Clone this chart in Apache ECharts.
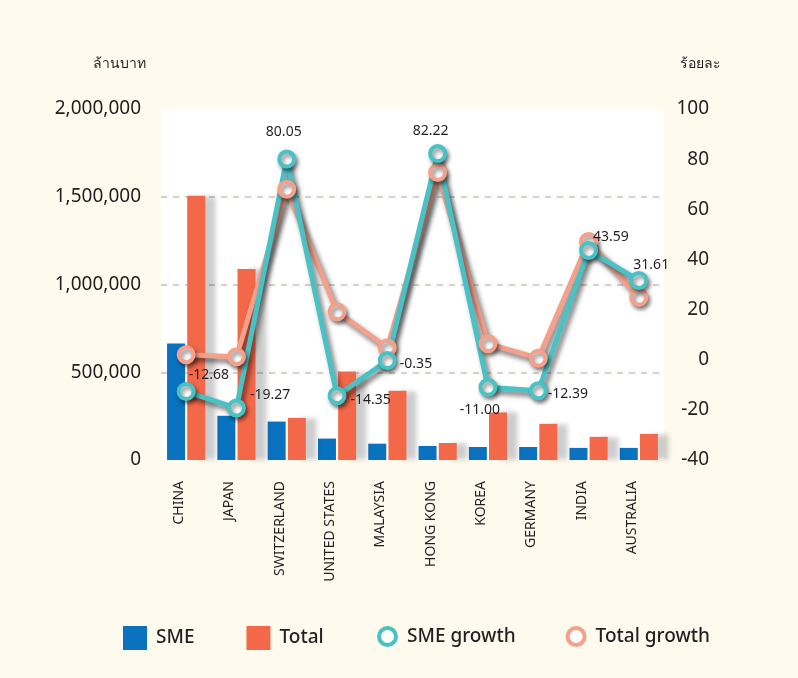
<!DOCTYPE html>
<html>
<head>
<meta charset="utf-8">
<script src="https://cdn.jsdelivr.net/npm/echarts@6/dist/echarts.min.js"></script>
<style>
  html, body { margin: 0; padding: 0; background: #FEFBEE; }
  #chart { width: 798px; height: 678px; }
</style>
</head>
<body>
<div id="chart"></div>
<script>
const countries = ["CHINA", "JAPAN", "SWITZERLAND", "UNITED STATES", "MALAYSIA", "HONG KONG", "KOREA", "GERMANY", "INDIA", "AUSTRALIA"];
// ล้านบาท
const smeValue = [664000, 252000, 219000, 122000, 93000, 80000, 74000, 74000, 69000, 69000];
const totalValue = [1506000, 1088000, 240000, 504000, 395000, 97000, 271000, 206000, 132000, 149000];
// ร้อยละ
const smeGrowth = [-12.68, -19.27, 80.05, -14.35, -0.35, 82.22, -11.00, -12.39, 43.59, 31.61];
const totalGrowth = [2.0, 1.2, 68.0, 19.1, 4.8, 74.7, 6.4, 0.6, 47.2, 24.9];

// label placement per point [position, dx, dy]
const labelPos = [
  ["right", -7, -16], ["right", 4, -13], ["top", -3, -11], ["right", 4, 4], ["right", 3, 3],
  ["top", -7, -6], ["bottom", -8, 6], ["right", 0, 3], ["right", -5, -13], ["right", -15, -15]
];

const chart = echarts.init(document.getElementById("chart"));

const fontFamily = "'Noto Sans', 'DejaVu Sans', sans-serif";
const teal = "#49C2C6";
const pink = "#F4A08B";
const textColor = "#231F20";

const lineShadow = { shadowColor: "rgba(0,0,0,0.55)", shadowBlur: 5, shadowOffsetX: 3, shadowOffsetY: 4 };
const dotShadow = { shadowColor: "rgba(0,0,0,0.45)", shadowBlur: 4, shadowOffsetX: 2, shadowOffsetY: 3 };

const option = {
  backgroundColor: "#FEFBEE",
  textStyle: { fontFamily: fontFamily },
  grid: {
    left: 161, right: 134, top: 109, bottom: 218,
    show: true, backgroundColor: "#fff", borderWidth: 0
  },
  graphic: [
    { type: "text", left: 93, top: 57, style: { text: "ล้านบาท", fontSize: 14, fill: textColor, fontFamily: fontFamily } },
    { type: "text", left: 680, top: 57, style: { text: "ร้อยละ", fontSize: 14, fill: textColor, fontFamily: fontFamily } }
  ],
  legend: [
    {
      left: 118, top: 621, itemWidth: 24, itemHeight: 24, itemGap: 52,
      textStyle: { fontSize: 19, color: textColor, fontWeight: 500, padding: [0, 0, 0, 4] },
      data: [{ name: "SME", icon: "rect" }, { name: "Total", icon: "rect" }]
    },
    {
      left: 372, top: 621, itemWidth: 17, itemHeight: 24, itemGap: 50,
      textStyle: { fontSize: 19, color: textColor, fontWeight: 500, padding: [0, 0, 0, 6] },
      data: [
        { name: "SME growth", icon: "circle", itemStyle: { color: "#fff", borderColor: teal, borderWidth: 4 } },
        { name: "Total growth", icon: "circle", itemStyle: { color: "#fff", borderColor: pink, borderWidth: 4 } }
      ]
    }
  ],
  xAxis: {
    type: "category",
    data: countries,
    axisLine: { show: false },
    axisTick: { show: false },
    axisLabel: {
      rotate: 90, margin: 21, interval: 0, fontSize: 14, color: textColor,
      verticalAlign: "bottom"
    }
  },
  yAxis: [
    {
      type: "value", min: 0, max: 2000000, interval: 500000,
      axisLine: { show: false }, axisTick: { show: false },
      axisLabel: {
        margin: 20, fontSize: 19, color: textColor,
        formatter: v => v.toLocaleString("en-US")
      },
      splitLine: {
        show: true, showMinLine: false, showMaxLine: false,
        lineStyle: { color: "#CDBFB3", type: [6, 6], width: 1.5 }
      }
    },
    {
      type: "value", min: -40, max: 100, interval: 20,
      axisLine: { show: false }, axisTick: { show: false },
      axisLabel: { margin: 45, align: "right", fontSize: 19, color: textColor },
      splitLine: { show: false }
    }
  ],
  series: [
    {
      name: "SME", type: "bar", data: smeValue, barWidth: 18, barGap: "12%",
      itemStyle: { color: "#0A72BE" }
    },
    {
      name: "Total", type: "bar", data: totalValue, barWidth: 18,
      itemStyle: {
        color: "#F26849",
        shadowColor: "rgba(0,0,0,0.2)", shadowBlur: 5, shadowOffsetX: 11, shadowOffsetY: 0
      }
    },
    {
      name: "Total growth", type: "line", yAxisIndex: 1, data: totalGrowth,
      symbol: "circle", symbolSize: 15, showAllSymbol: true,
      lineStyle: Object.assign({ color: pink, width: 5 }, lineShadow),
      itemStyle: Object.assign({ color: "#fff", borderColor: pink, borderWidth: 4 }, dotShadow),
      emphasis: { disabled: true }
    },
    {
      name: "SME growth", type: "line", yAxisIndex: 1,
      data: smeGrowth.map((v, i) => ({
        value: v,
        label: {
          show: true, position: labelPos[i][0], distance: 0,
          offset: [labelPos[i][1], labelPos[i][2]]
        }
      })),
      symbol: "circle", symbolSize: 15, showAllSymbol: true,
      label: { fontSize: 14, color: textColor, formatter: p => p.value.toFixed(2) },
      lineStyle: Object.assign({ color: teal, width: 5 }, lineShadow),
      itemStyle: Object.assign({ color: "#fff", borderColor: teal, borderWidth: 4 }, dotShadow),
      emphasis: { disabled: true }
    }
  ]
};

chart.setOption(option);
</script>
</body>
</html>
